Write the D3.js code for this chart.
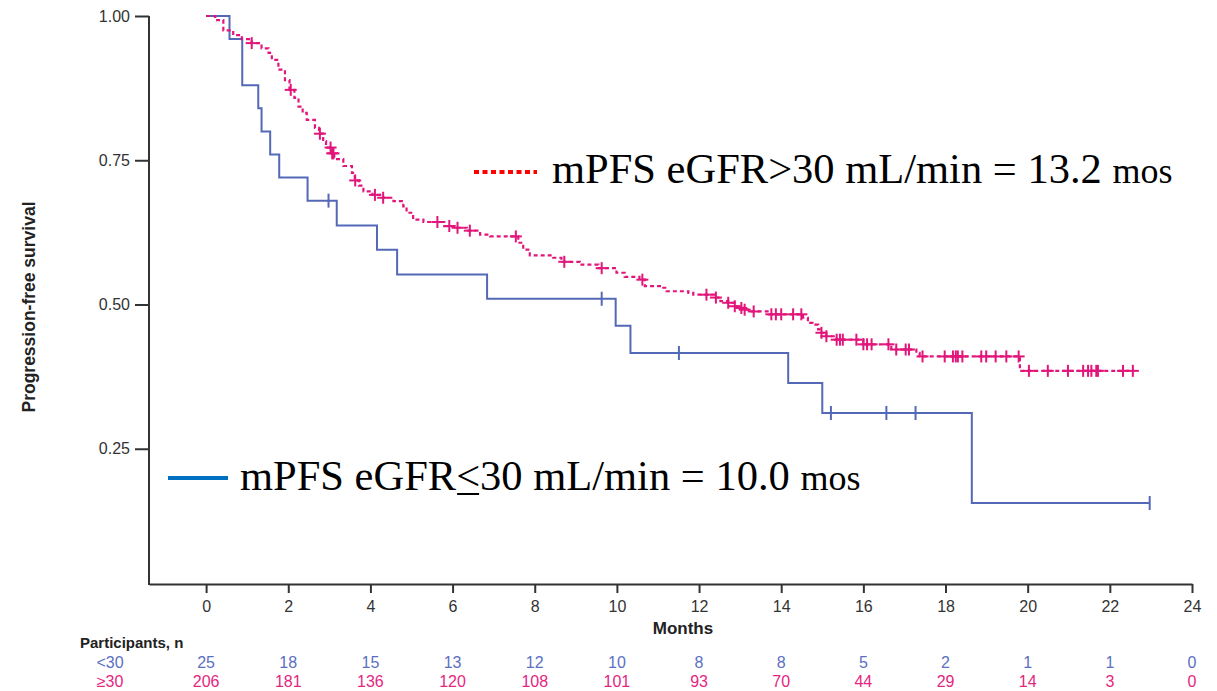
<!DOCTYPE html>
<html>
<head>
<meta charset="utf-8">
<script src="https://cdn.jsdelivr.net/npm/d3@7"></script>
<style>
  body { margin: 0; background: #fff; }
  svg { display: block; }
</style>
</head>
<body>
<svg id="chart" width="1217" height="691"></svg>
<script>
// eGFR <= 30 group: [month, survival] at each drop
var lowSteps = [[0, 1.0], [0.57, 0.96], [0.88, 0.88], [1.27, 0.84], [1.35, 0.80], [1.56, 0.76],
  [1.78, 0.72], [2.47, 0.68], [3.18, 0.637], [4.16, 0.595], [4.65, 0.552], [6.84, 0.51],
  [9.97, 0.463], [10.33, 0.416], [14.17, 0.364], [15.0, 0.312], [18.64, 0.156]]
var lowEnd = 22.97
var lowCensor = [2.98, 9.63, 11.51, 15.21, 16.56, 17.27, 22.97]

// eGFR > 30 group
var highSteps = [[0, 1.0], [0.22, 0.993], [0.42, 0.975], [0.66, 0.967], [0.87, 0.960], [1.11, 0.953],
  [1.35, 0.944], [1.52, 0.936], [1.60, 0.924], [1.76, 0.907], [1.92, 0.889], [2.03, 0.872],
  [2.15, 0.858], [2.25, 0.843], [2.35, 0.832], [2.45, 0.820], [2.65, 0.806], [2.75, 0.796],
  [2.85, 0.783], [2.92, 0.772], [3.05, 0.762], [3.12, 0.752], [3.34, 0.740], [3.55, 0.728],
  [3.62, 0.715], [3.72, 0.706], [3.83, 0.696], [4.05, 0.690], [4.31, 0.685], [4.56, 0.679],
  [4.80, 0.670], [4.88, 0.659], [5.04, 0.647], [5.29, 0.643], [5.80, 0.636], [6.05, 0.633],
  [6.35, 0.628], [6.67, 0.621], [6.91, 0.618], [7.60, 0.607], [7.72, 0.595], [7.88, 0.585],
  [8.45, 0.581], [8.65, 0.574], [9.10, 0.569], [9.55, 0.563], [9.99, 0.555], [10.19, 0.548],
  [10.55, 0.543], [10.68, 0.532], [11.13, 0.529], [11.21, 0.523], [11.74, 0.520], [11.86, 0.517],
  [12.41, 0.512], [12.52, 0.506], [12.71, 0.503], [12.87, 0.497], [13.03, 0.494], [13.11, 0.491],
  [13.20, 0.488], [13.70, 0.483], [14.53, 0.477], [14.65, 0.468], [14.76, 0.465], [14.90, 0.457],
  [14.98, 0.451], [15.10, 0.445], [15.35, 0.439], [16.00, 0.431], [16.68, 0.422], [17.29, 0.416],
  [17.37, 0.410], [19.81, 0.385]]
var highEnd = 22.56
var highCensor = [1.11, 2.06, 2.77, 3.03, 3.07, 3.10, 3.63, 4.11, 4.31, 5.63, 5.92, 6.12, 6.42,
  7.54, 8.72, 9.63, 10.62, 12.18, 12.41, 12.71, 12.87, 13.03, 13.11, 13.33, 13.76, 13.87, 14.0,
  14.29, 14.49, 14.98, 15.1, 15.35, 15.43, 15.5, 15.83, 16.0, 16.09, 16.2, 16.61, 16.8, 17.03,
  17.11, 17.44, 17.98, 18.18, 18.25, 18.3, 18.41, 18.87, 18.99, 19.22, 19.48, 19.78, 20.03,
  20.49, 20.98, 21.35, 21.47, 21.55, 21.67, 21.71, 22.32, 22.56]

var monthTicks = [0, 2, 4, 6, 8, 10, 12, 14, 16, 18, 20, 22, 24]
var survTicks = [0.25, 0.5, 0.75, 1.0]
var riskLow = [25, 18, 15, 13, 12, 10, 8, 8, 5, 2, 1, 1, 0]
var riskHigh = [206, 181, 136, 120, 108, 101, 93, 70, 44, 29, 14, 3, 0]

const BLUE = "#5468b8"
const PINK = "#e2157a"
const AXIS_Y = 584
const AXIS_X = 149
var sans = "Liberation Sans, Arial, sans-serif"
var serif = "Liberation Serif, Times New Roman, serif"

var svg = d3.select("#chart")

var x = d3.scaleLinear().domain([-1.39, 24]).range([AXIS_X, 1192])
var y = d3.scaleLinear().domain([0, 1]).range([593, 16])

// axes
var xAxis = svg.append("g")
    .attr("transform", "translate(0," + AXIS_Y + ")")
    .call(d3.axisBottom(x).tickValues(monthTicks).tickFormat(d3.format("d")).tickSize(9).tickSizeOuter(0).tickPadding(8))
xAxis.select(".domain").attr("stroke", "#333").attr("stroke-width", 2)
xAxis.selectAll(".tick line").attr("stroke", "#333").attr("stroke-width", 2)
xAxis.selectAll("text").attr("font-family", sans).attr("font-size", 16).attr("fill", "#333")

var yAxis = svg.append("g")
    .attr("transform", "translate(" + AXIS_X + ",0)")
    .call(d3.axisLeft(y).tickValues(survTicks).tickFormat(d3.format(".2f")).tickSize(14).tickPadding(5))
yAxis.select(".domain").remove()
yAxis.selectAll(".tick line").attr("stroke", "#333").attr("stroke-width", 2)
yAxis.selectAll("text").attr("font-family", sans).attr("font-size", 16).attr("fill", "#333")
svg.append("line")
    .attr("x1", AXIS_X).attr("x2", AXIS_X)
    .attr("y1", y(1)).attr("y2", AXIS_Y + 1)
    .attr("stroke", "#333").attr("stroke-width", 2)

svg.append("text")
    .attr("transform", "translate(35,307) rotate(-90)")
    .attr("text-anchor", "middle")
    .attr("font-family", sans)
    .attr("font-size", 17.5).attr("font-weight", "bold").attr("fill", "#222")
    .text("Progression-free survival")

svg.append("text")
    .attr("x", 683).attr("y", 634)
    .attr("text-anchor", "middle")
    .attr("font-family", sans)
    .attr("font-size", 17).attr("font-weight", "bold").attr("fill", "#222")
    .text("Months")

// survival curves
var stepLine = d3.line()
    .x(d => x(d[0]))
    .y(d => y(d[1]))
    .curve(d3.curveStepAfter)

function survAt(steps, t) {
    var s = steps[0][1]
    for (var i = 0; i < steps.length; i++) {
        if (steps[i][0] <= t) s = steps[i][1]
    }
    return s
}

var lowPts = lowSteps.concat([[lowEnd, lowSteps[lowSteps.length - 1][1]]])
var highPts = highSteps.concat([[highEnd, highSteps[highSteps.length - 1][1]]])

svg.append("path")
    .datum(lowPts)
    .attr("d", stepLine)
    .attr("fill", "none").attr("stroke", BLUE).attr("stroke-width", 2)

svg.append("path")
    .datum(highPts)
    .attr("d", stepLine)
    .attr("fill", "none").attr("stroke", PINK).attr("stroke-width", 2.2)
    .attr("stroke-dasharray", "4,3")

// censor marks
svg.append("g").selectAll("line")
    .data(lowCensor).enter().append("line")
    .attr("x1", d => x(d)).attr("x2", d => x(d))
    .attr("y1", d => y(survAt(lowSteps, d)) - 7)
    .attr("y2", d => y(survAt(lowSteps, d)) + 7)
    .attr("stroke", BLUE).attr("stroke-width", 2)

var hc = svg.append("g").selectAll("g")
    .data(highCensor).enter().append("g")
    .attr("transform", d => "translate(" + x(d) + "," + y(survAt(highSteps, d)) + ")")
hc.append("line").attr("x1", 0).attr("x2", 0).attr("y1", -6).attr("y2", 6)
    .attr("stroke", PINK).attr("stroke-width", 2)
hc.append("line").attr("x1", -6).attr("x2", 6).attr("y1", 0).attr("y2", 0)
    .attr("stroke", PINK).attr("stroke-width", 2)

// legends
svg.append("line")
    .attr("x1", 474).attr("x2", 537).attr("y1", 172).attr("y2", 172)
    .attr("stroke", "#ff0000").attr("stroke-width", 4).attr("stroke-dasharray", "5,3.5")
var t1 = svg.append("text")
    .attr("x", 552).attr("y", 183)
    .attr("font-family", serif).attr("font-size", 42.5).attr("fill", "#000")
t1.append("tspan").text("mPFS eGFR>30 mL/min = 13.2 ")
t1.append("tspan").attr("font-size", 36).text("mos")

svg.append("line")
    .attr("x1", 168).attr("x2", 228).attr("y1", 478).attr("y2", 478)
    .attr("stroke", "#0070c0").attr("stroke-width", 4)
var t2 = svg.append("text")
    .attr("x", 240).attr("y", 490)
    .attr("font-family", serif).attr("font-size", 42.5).attr("fill", "#000")
t2.append("tspan").text("mPFS eGFR<30 mL/min = 10.0 ")
t2.append("tspan").attr("font-size", 36).text("mos")
// underline under the "<" sign
var t2n = t2.node()
var ltIdx = 9
var ux0 = t2n.getStartPositionOfChar(ltIdx).x
var ux1 = t2n.getEndPositionOfChar(ltIdx).x
svg.append("line")
    .attr("x1", ux0 + 1).attr("x2", ux1 - 1).attr("y1", 494).attr("y2", 494)
    .attr("stroke", "#000").attr("stroke-width", 2)

// participants at risk
svg.append("text")
    .attr("x", 80).attr("y", 648)
    .attr("font-family", sans).attr("font-size", 15).attr("font-weight", "bold").attr("fill", "#222")
    .text("Participants, n")

var rows = [{ label: "<30", vals: riskLow, color: "#5b70c2", yy: 668 },
            { label: "\u226530", vals: riskHigh, color: "#e5267f", yy: 687 }]
rows.forEach(function (r) {
    svg.append("text")
        .attr("x", 110).attr("y", r.yy)
        .attr("text-anchor", "middle")
        .attr("font-family", sans).attr("font-size", 16).attr("fill", r.color)
        .text(r.label)
    svg.append("g").selectAll("text")
        .data(r.vals).enter().append("text")
        .attr("x", (d, i) => x(monthTicks[i]))
        .attr("y", r.yy)
        .attr("text-anchor", "middle")
        .attr("font-family", sans).attr("font-size", 16).attr("fill", r.color)
        .text(d => d)
})
</script>
</body>
</html>
